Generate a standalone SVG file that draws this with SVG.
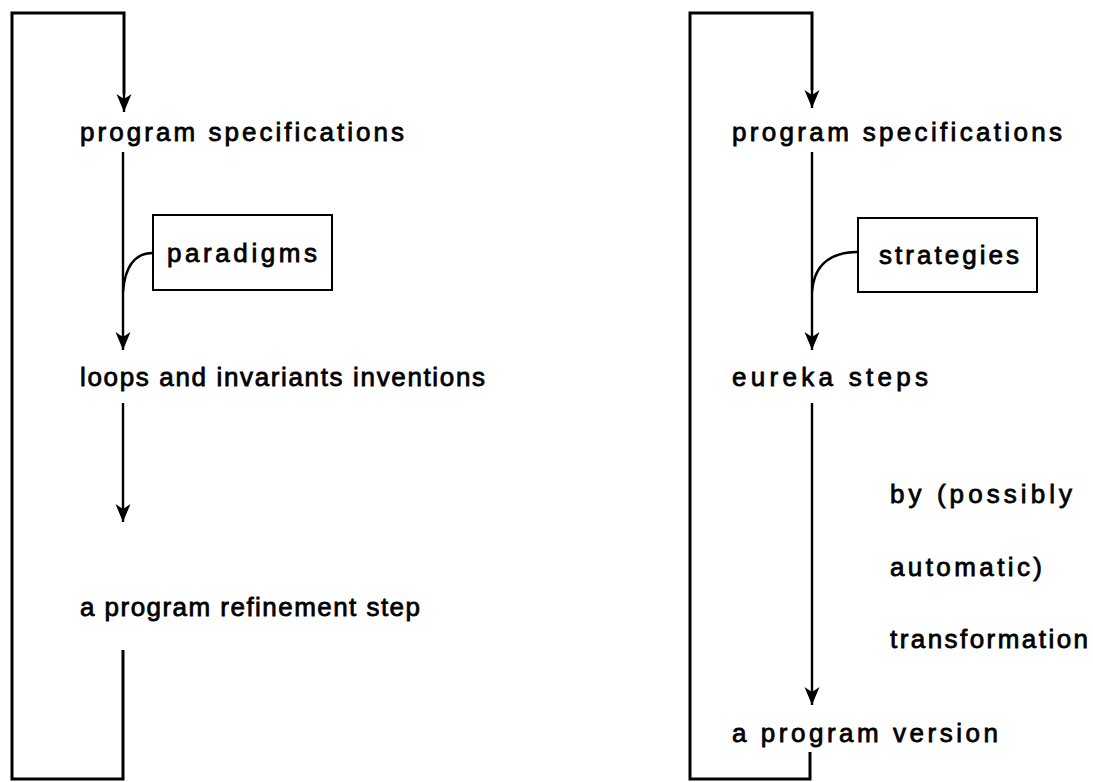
<svg xmlns="http://www.w3.org/2000/svg" width="1093" height="782" viewBox="0 0 1093 782">
  <defs>
    <marker id="head" markerUnits="userSpaceOnUse" viewBox="0 -8 18 16" refX="18" refY="0" markerWidth="18" markerHeight="16" orient="auto">
      <path d="M0,-7.5 L18,0 L0,7.5 L5,0 Z" fill="#000"/>
    </marker>
    <style>
      .loop { fill: none; stroke: #000; stroke-width: 3; stroke-linejoin: miter; }
      .flow { fill: none; stroke: #000; stroke-width: 2.4; }
      .box { fill: #fff; stroke: #000; stroke-width: 2; }
      .lbl { font-family: "Liberation Sans", Arial, sans-serif; font-size: 26px; fill: #000; stroke: #000; stroke-width: 0.8; }
    </style>
  </defs>
  <rect width="1093" height="782" fill="#fff"/>

  <!-- connectors: feedback loops, refinement arrows, side inputs -->
  <g id="connectors">
    <!-- left scheme -->
    <path class="loop" d="M123,650 L123,779 L12,779 L12,13 L124,13 L124,94" />
    <path class="flow" d="M124,94 L124,112" marker-end="url(#head)"/>
    <path class="flow" d="M123,152 L123,292"/>
    <path class="flow" d="M153,253 Q126,253 123,292 L123,350" marker-end="url(#head)"/>
    <path class="flow" d="M123,403 L123,522" marker-end="url(#head)"/>

    <!-- right scheme -->
    <path class="loop" d="M810,752 L810,779 L690,779 L690,13 L812,13 L812,90" />
    <path class="flow" d="M812,90 L812,108" marker-end="url(#head)"/>
    <path class="flow" d="M812,152 L812,292"/>
    <path class="flow" d="M858,252 Q815,252 812,292 L812,350" marker-end="url(#head)"/>
    <path class="flow" d="M812,403 L812,705" marker-end="url(#head)"/>
  </g>

  <!-- left scheme nodes -->
  <g id="spec-left">
    <text class="lbl" x="80" y="141" textLength="324" lengthAdjust="spacing">program specifications</text>
  </g>
  <g id="paradigms">
    <rect class="box" x="153" y="215" width="179" height="75"/>
    <text class="lbl" x="167" y="262" textLength="150" lengthAdjust="spacing">paradigms</text>
  </g>
  <g id="loops-invariants">
    <text class="lbl" x="80" y="386" textLength="405" lengthAdjust="spacing">loops and invariants inventions</text>
  </g>
  <g id="refinement-step">
    <text class="lbl" x="80" y="616" textLength="340" lengthAdjust="spacing">a program refinement step</text>
  </g>

  <!-- right scheme nodes -->
  <g id="spec-right">
    <text class="lbl" x="732" y="141" textLength="330" lengthAdjust="spacing">program specifications</text>
  </g>
  <g id="strategies">
    <rect class="box" x="858" y="218" width="179" height="74"/>
    <text class="lbl" x="879" y="264" textLength="140" lengthAdjust="spacing">strategies</text>
  </g>
  <g id="eureka-steps">
    <text class="lbl" x="732" y="386" textLength="196" lengthAdjust="spacing">eureka steps</text>
  </g>
  <g id="transformation-note">
    <text class="lbl" x="890" y="503" textLength="182" lengthAdjust="spacing">by (possibly</text>
    <text class="lbl" x="890" y="576" textLength="152" lengthAdjust="spacing">automatic)</text>
    <text class="lbl" x="890" y="648" textLength="198" lengthAdjust="spacing">transformation</text>
  </g>
  <g id="program-version">
    <text class="lbl" x="732" y="742" textLength="266" lengthAdjust="spacing">a program version</text>
  </g>
</svg>
